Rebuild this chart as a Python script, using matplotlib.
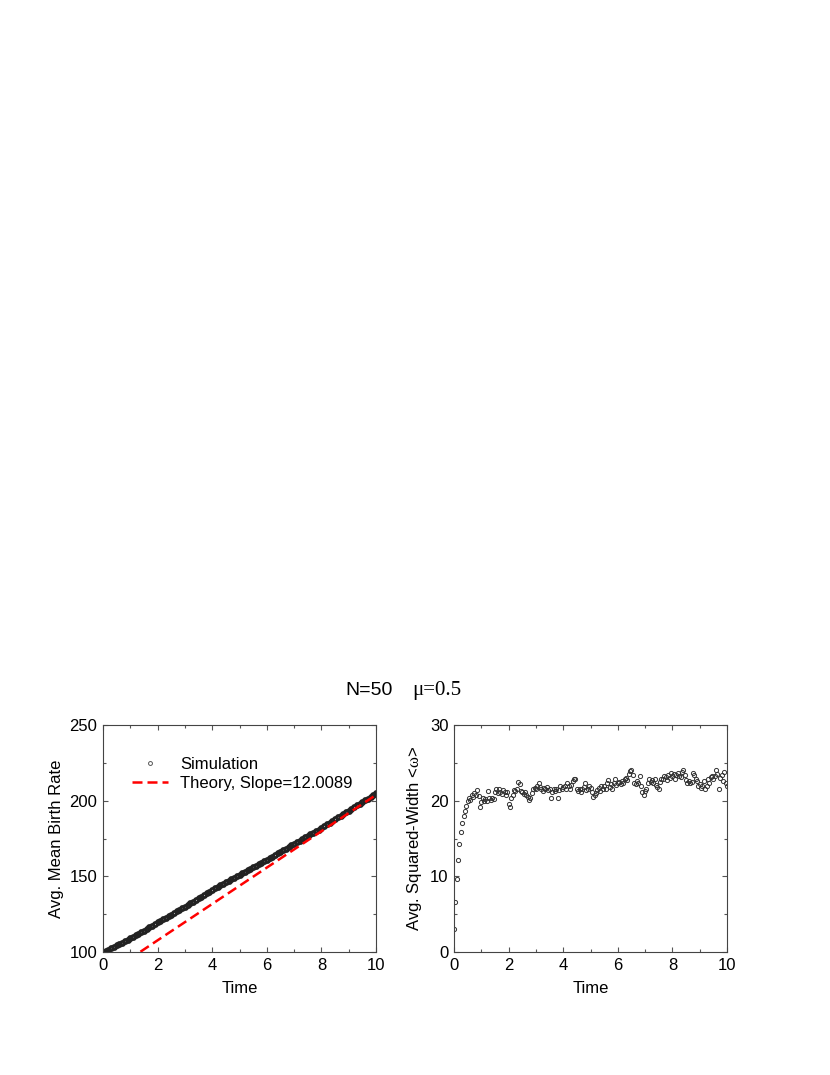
import numpy as np
import matplotlib
matplotlib.use("Agg")
import matplotlib.pyplot as plt
from matplotlib.ticker import MultipleLocator
from matplotlib.legend_handler import HandlerLine2D

plt.rcParams['font.family'] = ['Liberation Sans', 'DejaVu Sans']
plt.rcParams['mathtext.fontset'] = 'custom'
plt.rcParams['mathtext.rm'] = 'Liberation Serif'

# left panel: average mean birth rate, sampled every 0.1 in time
birth_time = np.arange(101) * 0.1
birth_rate = [
    100.0, 100.8, 101.6, 102.5, 103.4, 104.3, 105.2, 106.1, 107.1, 108.0,
    109.0, 110.0, 111.0, 112.1, 113.1, 114.2, 115.2, 116.3, 117.4, 118.4,
    119.5, 120.5, 121.5, 122.6, 123.6, 124.7, 125.7, 126.8, 127.9, 128.9,
    130.0, 131.1, 132.2, 133.3, 134.4, 135.5, 136.6, 137.7, 138.8, 139.9,
    141.0, 142.0, 143.0, 144.0, 145.0, 146.0, 147.0, 148.0, 149.0, 150.0,
    151.0, 152.0, 153.0, 154.0, 155.0, 156.0, 157.0, 158.0, 159.0, 160.0,
    161.0, 162.0, 163.1, 164.1, 165.2, 166.2, 167.3, 168.3, 169.4, 170.4,
    171.5, 172.5, 173.6, 174.6, 175.7, 176.7, 177.8, 178.8, 179.9, 180.9,
    182.0, 183.1, 184.3, 185.4, 186.6, 187.7, 188.9, 190.0, 191.2, 192.3,
    193.5, 194.6, 195.7, 196.9, 198.0, 199.2, 200.3, 201.4, 202.6, 203.7,
    204.8,
]
# theory line end points (slope 12.0089)
theory_time = [0.0, 10.0]
theory_rate = [83.7, 203.8]

# right panel: average squared width, sampled every 0.05 in time
width_time = np.arange(201) * 0.05
width_sq = [
    3.1, 6.6, 9.6, 12.2, 14.3, 15.9, 17.1, 18.0, 18.7, 19.3,
    19.9, 20.4, 20.1, 20.8, 20.5, 21.0, 20.7, 21.4, 20.6, 19.2,
    19.8, 20.3, 19.9, 20.2, 20.0, 21.3, 20.4, 20.1, 20.3, 20.2,
    21.2, 21.5, 21.0, 21.6, 21.2, 20.9, 21.4, 21.1, 20.7, 21.2,
    19.6, 19.2, 20.3, 20.8, 21.4, 21.3, 21.6, 22.5, 22.2, 21.3,
    21.1, 20.9, 21.2, 20.8, 20.5, 20.1, 20.4, 21.0, 21.5, 21.7,
    21.5, 22.0, 22.4, 21.8, 21.6, 21.3, 21.7, 21.5, 21.8, 21.4,
    21.6, 20.4, 21.2, 21.5, 21.3, 21.6, 20.3, 21.4, 21.9, 21.5,
    21.8, 22.0, 21.6, 22.3, 21.9, 21.5, 22.1, 22.6, 22.9, 22.8,
    21.5, 21.3, 21.6, 21.2, 21.5, 21.8, 22.4, 21.4, 21.6, 21.9,
    21.7, 21.2, 20.5, 20.7, 21.0, 21.4, 21.7, 21.3, 21.9, 21.6,
    22.0, 21.5, 22.3, 22.7, 21.8, 22.2, 21.6, 22.4, 22.9, 22.1,
    22.3, 22.5, 22.2, 22.6, 22.4, 22.8, 23.0, 22.7, 23.5, 23.9,
    24.1, 23.4, 22.4, 22.2, 22.6, 22.3, 23.2, 22.0, 21.2, 20.8,
    21.3, 21.6, 22.4, 22.9, 22.5, 22.7, 22.3, 22.8, 22.1, 21.8,
    21.6, 22.5, 22.8, 22.9, 23.3, 23.1, 22.7, 23.4, 23.0, 23.6,
    23.2, 23.5, 22.9, 23.4, 23.6, 23.3, 23.1, 23.8, 24.0, 23.4,
    22.7, 22.4, 22.6, 22.3, 22.5, 23.6, 23.4, 22.9, 22.6, 21.9,
    22.2, 21.7, 22.0, 22.6, 21.6, 21.9, 22.9, 22.4, 23.1, 23.3,
    22.8, 23.2, 24.0, 23.5, 21.6, 23.0, 23.4, 22.6, 23.8, 22.3,
    22.0,
]


class MarkerRight(HandlerLine2D):
    # put the single legend marker next to the text, as in the original
    def get_xdata(self, legend, xdescent, ydescent, width, height, fontsize):
        xdata, _ = super().get_xdata(legend, xdescent, ydescent, width,
                                     height, fontsize)
        return xdata, [-xdescent + 0.97 * width]


W, H = 830, 1075
fig = plt.figure(figsize=(W / 100, H / 100), dpi=100)

ax1 = fig.add_axes([103 / W, 1 - 952 / H, 273 / W, 227 / H])
ax2 = fig.add_axes([454 / W, 1 - 952 / H, 273 / W, 227 / H])

sim, = ax1.plot(birth_time, birth_rate, 'o', ms=3.0, mfc='none',
                mec='#222222', mew=1.9, label='Simulation')
ax1.plot(theory_time, theory_rate, '--', color='red', lw=1.8, dashes=(4, 2),
         label='Theory, Slope=12.0089')
ax1.set_xlim(0, 10)
ax1.set_ylim(100, 250)
ax1.yaxis.set_major_locator(MultipleLocator(50))
ax1.yaxis.set_minor_locator(MultipleLocator(25))
ax1.set_ylabel('Avg. Mean Birth Rate', fontsize=12)
leg = ax1.legend(loc='upper left', bbox_to_anchor=(0.08, 0.89), frameon=False,
                 fontsize=12, handlelength=2.2, handletextpad=0.7,
                 labelspacing=0.25, numpoints=1, borderaxespad=0,
                 handler_map={sim: MarkerRight()})
leg.legend_handles[0].set_markersize(2.8)
leg.legend_handles[0].set_markeredgewidth(0.7)
leg.legend_handles[0].set_markeredgecolor('#555555')

ax2.plot(width_time, width_sq, 'o', ms=3.0, mfc='none', mec='#333333',
         mew=0.7)
ax2.set_xlim(0, 10)
ax2.set_ylim(0, 30)
ax2.yaxis.set_major_locator(MultipleLocator(10))
ax2.yaxis.set_minor_locator(MultipleLocator(5))
ax2.set_ylabel(r'Avg. Squared-Width <$\mathrm{\omega}$>', fontsize=12)

for ax in (ax1, ax2):
    ax.xaxis.set_major_locator(MultipleLocator(2))
    ax.xaxis.set_minor_locator(MultipleLocator(1))
    ax.set_xlabel('Time', fontsize=12, labelpad=6)
    ax.tick_params(which='both', direction='in', top=True, right=True,
                   labelsize=12, color='#555555', pad=4)
    ax.tick_params(which='major', length=3.6, width=0.8)
    ax.tick_params(which='minor', length=2.4, width=0.8)
    for s in ax.spines.values():
        s.set_color('#444444')
        s.set_linewidth(0.8)

fig.text(345 / W, 1 - 695 / H, 'N=50', fontsize=14, ha='left', va='baseline')
fig.text(412 / W, 1 - 695 / H, '\u03bc=0.5', fontsize=15, ha='left',
         va='baseline', family='Liberation Serif')

fig.savefig('out.png', dpi=100)
